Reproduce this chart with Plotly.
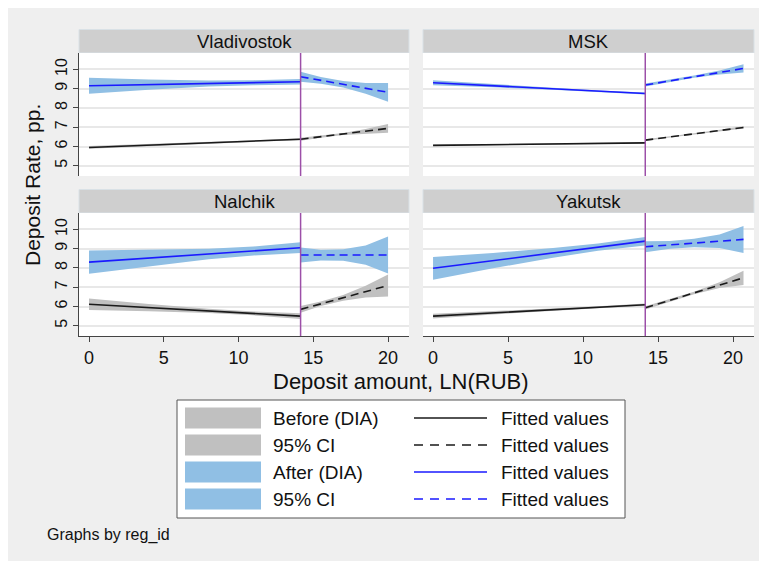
import plotly.graph_objects as go

W, H = 767, 561
cities = ["Vladivostok", "MSK", "Nalchik", "Yakutsk"]
cutoff = 14.15
x_ticks = [0, 5, 10, 15, 20]
y_ticks = [5, 6, 7, 8, 9, 10]

x_before = [0, 4, 8, 11, 14.15]
x_after = {
    "Vladivostok": [14.15, 15.5, 17, 18.5, 20],
    "MSK": [14.15, 15.8, 17.4, 19.1, 20.7],
    "Nalchik": [14.15, 15.5, 17, 18.5, 20],
    "Yakutsk": [14.15, 15.8, 17.4, 19.1, 20.7],
}

# After (DIA) - blue, before the cutoff
blue_b_fit = {"Vladivostok": [9.15, 9.21, 9.27, 9.31, 9.36], "MSK": [9.31, 9.15, 9.00, 8.87, 8.75],
              "Nalchik": [8.30, 8.51, 8.72, 8.88, 9.05], "Yakutsk": [7.98, 8.38, 8.78, 9.08, 9.39]}
blue_b_hi = {"Vladivostok": [9.56, 9.47, 9.43, 9.44, 9.50], "MSK": [9.44, 9.23, 9.05, 8.91, 8.80],
             "Nalchik": [8.90, 8.93, 8.99, 9.11, 9.33], "Yakutsk": [8.57, 8.78, 9.03, 9.27, 9.61]}
blue_b_lo = {"Vladivostok": [8.74, 8.95, 9.11, 9.18, 9.22], "MSK": [9.18, 9.07, 8.95, 8.83, 8.70],
             "Nalchik": [7.70, 8.09, 8.45, 8.65, 8.77], "Yakutsk": [7.39, 7.98, 8.53, 8.89, 9.17]}
# After (DIA) - blue, above the cutoff
blue_a_fit = {"Vladivostok": [9.62, 9.43, 9.23, 9.02, 8.81], "MSK": [9.19, 9.41, 9.62, 9.84, 10.05],
              "Nalchik": [8.67, 8.67, 8.67, 8.67, 8.67], "Yakutsk": [9.10, 9.20, 9.29, 9.39, 9.48]}
blue_a_hi = {"Vladivostok": [9.88, 9.61, 9.40, 9.30, 9.30], "MSK": [9.27, 9.47, 9.68, 9.94, 10.26],
             "Nalchik": [9.06, 8.95, 8.97, 9.17, 9.63], "Yakutsk": [9.38, 9.40, 9.51, 9.74, 10.18]}
blue_a_lo = {"Vladivostok": [9.36, 9.25, 9.06, 8.74, 8.32], "MSK": [9.11, 9.35, 9.56, 9.74, 9.84],
             "Nalchik": [8.28, 8.39, 8.37, 8.17, 7.71], "Yakutsk": [8.82, 9.00, 9.07, 9.04, 8.78]}

# Before (DIA) - black, before the cutoff
black_b_fit = {"Vladivostok": [5.95, 6.07, 6.19, 6.28, 6.38], "MSK": [6.06, 6.10, 6.13, 6.16, 6.19],
               "Nalchik": [6.12, 5.94, 5.77, 5.64, 5.50], "Yakutsk": [5.50, 5.67, 5.83, 5.96, 6.09]}
black_b_hi = {"Vladivostok": [6.02, 6.12, 6.23, 6.32, 6.43], "MSK": [6.10, 6.13, 6.15, 6.18, 6.22],
              "Nalchik": [6.42, 6.13, 5.88, 5.74, 5.65], "Yakutsk": [5.62, 5.75, 5.88, 6.01, 6.16]}
black_b_lo = {"Vladivostok": [5.88, 6.02, 6.15, 6.24, 6.33], "MSK": [6.02, 6.07, 6.11, 6.14, 6.16],
              "Nalchik": [5.82, 5.75, 5.66, 5.54, 5.35], "Yakutsk": [5.38, 5.59, 5.78, 5.91, 6.02]}
# Before (DIA) - black, above the cutoff
black_a_fit = {"Vladivostok": [6.38, 6.51, 6.65, 6.79, 6.94], "MSK": [6.33, 6.50, 6.66, 6.83, 6.99],
               "Nalchik": [5.85, 6.14, 6.45, 6.77, 7.09], "Yakutsk": [5.93, 6.32, 6.70, 7.11, 7.49]}
black_a_hi = {"Vladivostok": [6.46, 6.56, 6.70, 6.91, 7.17], "MSK": [6.38, 6.53, 6.69, 6.87, 7.05],
              "Nalchik": [6.03, 6.26, 6.60, 7.07, 7.66], "Yakutsk": [6.01, 6.38, 6.77, 7.26, 7.86]}
black_a_lo = {"Vladivostok": [6.30, 6.46, 6.60, 6.67, 6.71], "MSK": [6.28, 6.47, 6.63, 6.79, 6.93],
              "Nalchik": [5.67, 6.02, 6.30, 6.47, 6.52], "Yakutsk": [5.85, 6.26, 6.63, 6.96, 7.12]}

legend_fill_labels = ["Before (DIA)", "95% CI", "After (DIA)", "95% CI"]
legend_line_labels = ["Fitted values", "Fitted values", "Fitted values", "Fitted values"]

x_title = "Deposit amount, LN(RUB)"
y_title = "Deposit Rate, pp."
note = "Graphs by reg_id"

# ---- styles ----
FONT = "Liberation Sans, Arial, Helvetica, sans-serif"
BG = "#efefef"
GRAY_FILL = "#c0c0c0"
BLUE_FILL = "#90bfe4"
BLUE_LINE = "#1a1aff"
BLACK_LINE = "#1a1a1a"
PURPLE = "#9c4fa8"
STRIP = "#cfcfcf"
GRID = "#e8e8e8"
DASH = "8px,5px"
TXT = "#111"

OFF = 8  # page body margin of the browser


def px(x):
    return (x - OFF) / W


def py(y):
    return 1 - (y - OFF) / H


x_domains = [[px(79), px(409)], [px(423), px(754)]]
y_domains = [[py(176), py(53)], [py(336), py(213)]]
x_range = [-0.67, 21.4]
y_range = [4.47, 10.85]

fig = go.Figure()
shapes = []
annotations = []


def band(xs, hi, lo, color, ax):
    return go.Scatter(x=list(xs) + list(xs)[::-1], y=list(hi) + list(lo)[::-1],
                      fill="toself", fillcolor=color, line=dict(width=0),
                      mode="lines", hoverinfo="skip", showlegend=False,
                      xaxis="x" + ax, yaxis="y" + ax)


def line(xs, ys, color, dash, ax):
    return go.Scatter(x=xs, y=ys, mode="lines",
                      line=dict(color=color, width=1.6, dash=dash),
                      showlegend=False, xaxis="x" + ax, yaxis="y" + ax)


for i, c in enumerate(cities):
    row, col = i // 2, i % 2
    ax = "" if i == 0 else str(i + 1)
    xa = x_after[c]
    fig.add_trace(band(x_before, black_b_hi[c], black_b_lo[c], GRAY_FILL, ax))
    fig.add_trace(band(xa, black_a_hi[c], black_a_lo[c], GRAY_FILL, ax))
    fig.add_trace(band(x_before, blue_b_hi[c], blue_b_lo[c], BLUE_FILL, ax))
    fig.add_trace(band(xa, blue_a_hi[c], blue_a_lo[c], BLUE_FILL, ax))
    fig.add_trace(line(x_before, black_b_fit[c], BLACK_LINE, "solid", ax))
    fig.add_trace(line(xa, black_a_fit[c], BLACK_LINE, DASH, ax))
    fig.add_trace(line(x_before, blue_b_fit[c], BLUE_LINE, "solid", ax))
    fig.add_trace(line(xa, blue_a_fit[c], BLUE_LINE, DASH, ax))

    xk = "xaxis" + ax
    yk = "yaxis" + ax
    bottom = row == 1
    left = col == 0
    fig.layout[xk] = dict(
        domain=x_domains[col], range=x_range, anchor="y" + ax,
        tickvals=x_ticks, showticklabels=bottom, ticks="outside" if bottom else "",
        ticklen=5, tickcolor="#444", showline=bottom, linecolor="#444", linewidth=1,
        showgrid=False, zeroline=False,
        tickfont=dict(family=FONT, size=18, color=TXT))
    fig.layout[yk] = dict(
        domain=y_domains[row], range=y_range, anchor="x" + ax,
        tickvals=y_ticks, showticklabels=left, ticks="outside" if left else "",
        ticklen=5, tickcolor="#444", showline=left, linecolor="#444", linewidth=1,
        showgrid=True, gridcolor=GRID, gridwidth=1.5, zeroline=False, tickangle=-90,
        tickfont=dict(family=FONT, size=16, color=TXT))

    # cutoff line
    shapes.append(dict(type="line", xref="x" + ax, yref="y" + ax + " domain",
                       x0=cutoff, x1=cutoff, y0=0, y1=1,
                       line=dict(color=PURPLE, width=1.5), layer="above"))
    # strip header
    x0, x1 = x_domains[col]
    ytop = y_domains[row][1]
    shapes.append(dict(type="rect", xref="paper", yref="paper",
                       x0=x0, x1=x1, y0=ytop, y1=ytop + 23.5 / H,
                       fillcolor=STRIP, line=dict(color="#d9e1e6", width=1), layer="below"))
    annotations.append(dict(text=c, xref="paper", yref="paper",
                            x=(x0 + x1) / 2, y=ytop + 11.5 / H, showarrow=False,
                            xanchor="center", yanchor="middle",
                            font=dict(family=FONT, size=18.5, color=TXT)))
    # white plot area
    shapes.append(dict(type="rect", xref="paper", yref="paper",
                       x0=x0, x1=x1, y0=y_domains[row][0], y1=ytop,
                       fillcolor="white", line=dict(width=0), layer="below"))

# page background
shapes.insert(0, dict(type="rect", xref="paper", yref="paper",
                      x0=0, x1=1.0, y0=0, y1=1.0,
                      fillcolor=BG, line=dict(width=0), layer="below"))

# axis titles
annotations.append(dict(text=x_title, xref="paper", yref="paper", x=px(401), y=py(381),
                        showarrow=False, xanchor="center", yanchor="middle",
                        font=dict(family=FONT, size=22, color=TXT)))
annotations.append(dict(text=y_title, xref="paper", yref="paper", x=px(33), y=py(185),
                        showarrow=False, xanchor="center", yanchor="middle", textangle=-90,
                        font=dict(family=FONT, size=21, color=TXT)))
annotations.append(dict(text=note, xref="paper", yref="paper", x=px(45), y=py(535),
                        showarrow=False, xanchor="left", yanchor="middle",
                        font=dict(family=FONT, size=16, color=TXT)))

# custom legend
shapes.append(dict(type="rect", xref="paper", yref="paper",
                   x0=px(177), x1=px(625), y0=py(518), y1=py(400),
                   fillcolor="white", line=dict(color="#555", width=1), layer="above"))
row_y = [418, 445, 472, 499]
fill_cols = [GRAY_FILL, GRAY_FILL, BLUE_FILL, BLUE_FILL]
line_cols = [BLACK_LINE, BLACK_LINE, BLUE_LINE, BLUE_LINE]
line_dash = ["solid", "dash", "solid", "dash"]
for k, yy in enumerate(row_y):
    shapes.append(dict(type="rect", xref="paper", yref="paper",
                       x0=px(185), x1=px(261), y0=py(yy + 10.5), y1=py(yy - 10.5),
                       fillcolor=fill_cols[k], line=dict(width=0), layer="above"))
    shapes.append(dict(type="line", xref="paper", yref="paper",
                       x0=px(414), x1=px(487), y0=py(yy), y1=py(yy),
                       line=dict(color=line_cols[k], width=1.5,
                                 dash="solid" if line_dash[k] == "solid" else "9px,7px"),
                       layer="above"))
    annotations.append(dict(text=legend_fill_labels[k], xref="paper", yref="paper",
                            x=px(271), y=py(yy), showarrow=False, xanchor="left",
                            yanchor="middle", font=dict(family=FONT, size=19, color=TXT)))
    annotations.append(dict(text=legend_line_labels[k], xref="paper", yref="paper",
                            x=px(499), y=py(yy), showarrow=False, xanchor="left",
                            yanchor="middle", font=dict(family=FONT, size=19, color=TXT)))

fig.update_layout(
    width=W, height=H, margin=dict(l=0, r=0, t=0, b=0),
    paper_bgcolor="white", plot_bgcolor="rgba(0,0,0,0)",
    shapes=shapes, annotations=annotations, showlegend=False,
    font=dict(family=FONT),
)

fig.write_html("out.html")
